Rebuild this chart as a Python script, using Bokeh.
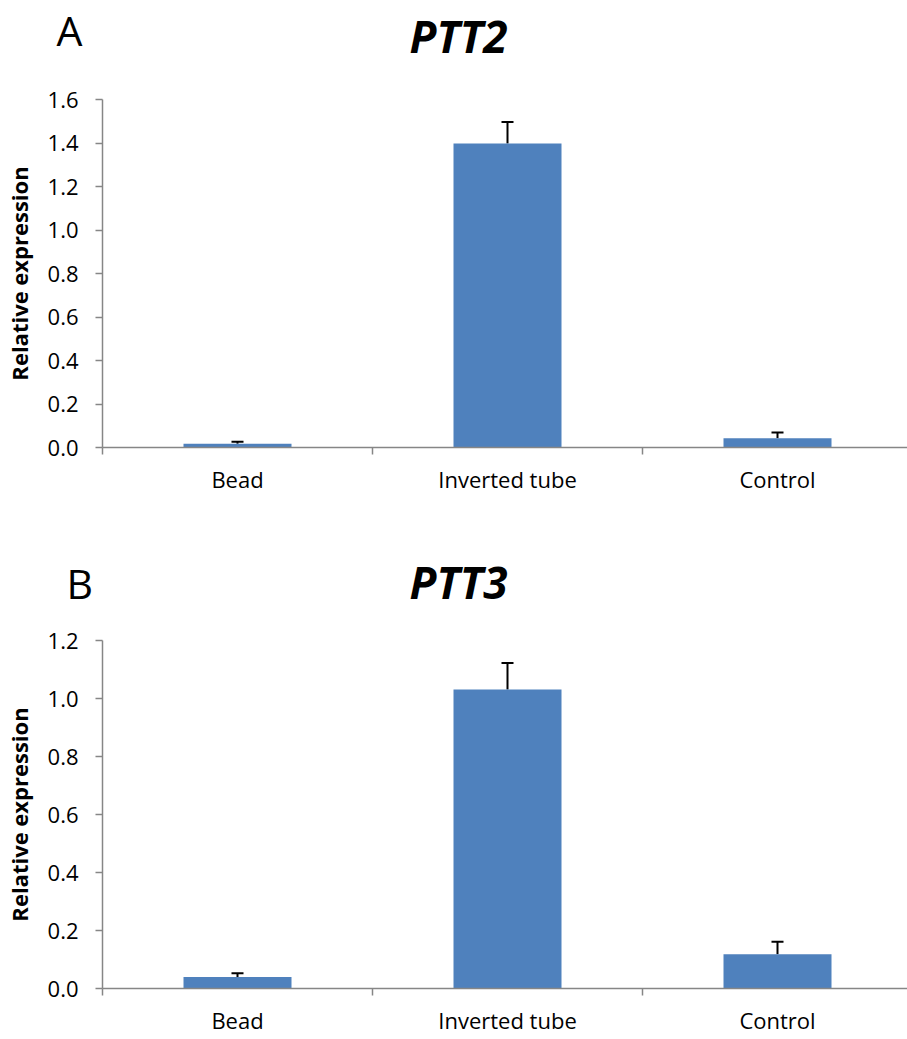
from bokeh.plotting import figure
from bokeh.models import Range1d, FixedTicker, Label, Whisker, TeeHead, ColumnDataSource, NumeralTickFormatter
from bokeh.layouts import column
from bokeh.embed import file_html
from bokeh.resources import INLINE

categories = ["Bead", "Inverted tube", "Control"]
ptt2_values = [0.017, 1.398, 0.043]
ptt2_errors = [0.009, 0.099, 0.026]
ptt3_values = [0.040, 1.031, 0.118]
ptt3_errors = [0.013, 0.091, 0.043]
ptt2_yticks = [0.0, 0.2, 0.4, 0.6, 0.8, 1.0, 1.2, 1.4, 1.6]
ptt3_yticks = [0.0, 0.2, 0.4, 0.6, 0.8, 1.0, 1.2]

FONT = "Open Sans"
BAR = "#4F81BD"
AXIS = "#868686"
PX_PER_CAT = 270.0
FRAME_W = 805
WIDTH = 907


def header(title, letter, height, title_base, letter_x, letter_base):
    h = figure(width=WIDTH, height=height, output_backend="svg", toolbar_location=None,
               x_range=Range1d(0, WIDTH), y_range=Range1d(height, 0),
               x_axis_type=None, y_axis_type=None,
               min_border=0, title_location=None, frame_align=False)
    h.grid.visible = False
    h.outline_line_color = None
    h.background_fill_color = "white"
    h.border_fill_color = "white"
    h.add_layout(Label(x=458, y=title_base, text=title, text_font=FONT,
                       text_font_size="44px", text_font_style="bold italic",
                       text_align="center", text_baseline="alphabetic", text_color="black"))
    h.add_layout(Label(x=letter_x, y=letter_base, text=letter, text_font=FONT,
                       text_font_size="41px", text_align="left",
                       text_baseline="alphabetic", text_color="black"))
    return h


def panel(values, errors, yticks, height, top, bottom):
    ymax = yticks[-1]
    xmax = FRAME_W / PX_PER_CAT
    p = figure(width=WIDTH, height=height, output_backend="svg", toolbar_location=None,
               x_range=Range1d(0, xmax), y_range=Range1d(0, ymax),
               min_border_left=102, min_border_right=0,
               min_border_top=top, min_border_bottom=bottom, title_location=None,
               frame_align=False)
    p.outline_line_color = None
    p.xgrid.visible = False
    p.ygrid.visible = False
    p.background_fill_color = "white"
    p.border_fill_color = "white"

    xs = [i + 0.5 for i in range(len(categories))]
    src = ColumnDataSource(dict(x=xs, top=values,
                                upper=[v + e for v, e in zip(values, errors)]))
    p.vbar(x="x", top="top", width=0.4, bottom=0, source=src,
           fill_color=BAR, line_color=None)
    w = Whisker(source=src, base="x", lower="top", upper="upper",
                line_color="black", line_width=2,
                upper_head=TeeHead(size=12, line_color="black", line_width=2),
                lower_head=None)
    p.add_layout(w)

    xa = p.xaxis[0]
    xa.ticker = FixedTicker(ticks=xs, minor_ticks=[0, 1, 2, 3])
    xa.major_label_overrides = {x: c for x, c in zip(xs, categories)}
    xa.major_tick_out = 0
    xa.major_tick_in = 0
    xa.minor_tick_out = 7
    xa.minor_tick_in = 0
    xa.minor_tick_line_color = AXIS
    xa.axis_line_color = AXIS
    xa.axis_line_width = 1.5
    xa.minor_tick_line_width = 1.5
    xa.major_label_text_font = FONT
    xa.major_label_text_font_size = "22px"
    xa.major_label_text_color = "black"
    xa.major_label_standoff = 9

    ya = p.yaxis[0]
    ya.ticker = FixedTicker(ticks=yticks)
    ya.formatter = NumeralTickFormatter(format="0.0")
    ya.major_tick_out = 7
    ya.major_tick_in = 0
    ya.minor_tick_out = 0
    ya.minor_tick_in = 0
    ya.axis_line_color = AXIS
    ya.axis_line_width = 1.5
    ya.major_tick_line_color = AXIS
    ya.major_tick_line_width = 1.5
    ya.major_label_text_font = FONT
    ya.major_label_text_font_size = "22px"
    ya.major_label_text_color = "black"
    ya.major_label_standoff = 17
    ya.axis_label = "Relative expression"
    ya.axis_label_text_font = FONT
    ya.axis_label_text_font_style = "bold"
    ya.axis_label_text_font_size = "22px"
    ya.axis_label_text_color = "black"
    ya.axis_label_standoff = 11
    return p


ha = header("PTT2", "A", 79, 35, 56, 29)
pa = panel(ptt2_values, ptt2_errors, ptt2_yticks, 440, 20, 72)
hb = header("PTT3", "B", 100, 62, 66, 63)
pb = panel(ptt3_values, ptt3_errors, ptt3_yticks, 420, 21, 51)

layout = column(ha, pa, hb, pb, spacing=0)
open("out.html", "w").write(file_html(layout, INLINE))
